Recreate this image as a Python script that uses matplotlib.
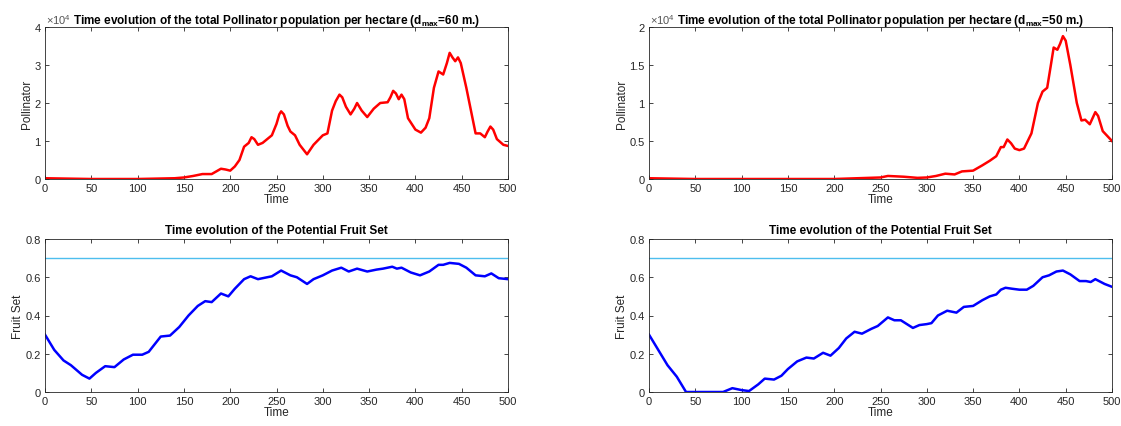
import matplotlib
matplotlib.use('Agg')
import matplotlib.pyplot as plt
from matplotlib.ticker import FuncFormatter

plt.rcParams['font.family'] = ['Liberation Sans', 'DejaVu Sans']
plt.rcParams['mathtext.fontset'] = 'custom'
plt.rcParams['mathtext.rm'] = 'Liberation Sans'
plt.rcParams['mathtext.bf'] = 'Liberation Sans:bold'

# pollinator population, d_max = 60 m
t_poll60 = [0, 50, 100, 140, 150, 160, 170, 180, 185, 190, 195, 200, 205, 210, 215, 220, 223, 226,
            230, 235, 240, 245, 250, 253, 255, 258, 262, 265, 270, 275, 283, 290, 300, 305,
            310, 314, 318, 321, 325, 330, 334, 337, 342, 348, 355, 362, 370, 373, 376, 379, 382,
            385, 388, 392, 400, 406, 411, 415, 420, 425, 430, 434, 437, 440, 443, 446, 449,
            455, 465, 470, 475, 478, 481, 484, 488, 495, 500]
poll60 = [200, 0, 0, 200, 400, 800, 1300, 1300, 2000, 2700, 2500, 2200, 3300, 5000, 8500, 9500, 11000, 10500,
          9000, 9500, 10500, 11500, 14500, 17000, 17800, 17000, 14000, 12500, 11500, 9000, 6500, 9000, 11500, 12000,
          18000, 20500, 22200, 21500, 19000, 17000, 18500, 20000, 18000, 16300, 18500, 20000, 20200, 21500, 23200, 22500, 21000,
          22200, 21000, 16000, 13000, 12200, 13500, 16000, 24000, 28300, 27500, 30500, 33200, 32000, 31000, 32000, 30500,
          24000, 12000, 12000, 11000, 12500, 13800, 13000, 10500, 9000, 8700]

# pollinator population, d_max = 50 m
t_poll50 = [0, 50, 100, 200, 250, 258, 275, 290, 300, 310, 320, 330, 338, 350, 360, 368,
            375, 380, 383, 387, 391, 395, 400, 405, 413, 420, 425, 430, 434, 437, 441, 444,
            447, 450, 455, 462, 467, 471, 476, 479, 482, 485, 490, 500]
poll50 = [100, 0, 0, 0, 200, 400, 300, 150, 200, 400, 700, 600, 1000, 1100, 1800, 2400,
          3000, 4200, 4200, 5200, 4700, 4000, 3800, 4000, 6000, 10000, 11500, 12000, 15000, 17300, 17000, 17800,
          18800, 18200, 15000, 10000, 7700, 7800, 7200, 8000, 8800, 8300, 6300, 5000]

# potential fruit set, d_max = 60 m
t_fruit60 = [0, 10, 20, 28, 40, 48, 55, 65, 75, 85, 95, 105, 112, 125, 135, 145, 155, 165,
             173, 180, 190, 198, 205, 215, 222, 230, 245, 255, 265, 272, 283, 290, 300, 310,
             320, 328, 337, 348, 358, 365, 375, 380, 385, 395, 405, 415, 425, 430, 437, 447,
             455, 465, 475, 482, 490, 500]
fruit60 = [0.30, 0.22, 0.165, 0.14, 0.09, 0.07, 0.10, 0.135, 0.13, 0.17, 0.195, 0.195, 0.21, 0.29, 0.295, 0.34, 0.40, 0.45,
           0.475, 0.47, 0.515, 0.50, 0.54, 0.59, 0.605, 0.59, 0.605, 0.635, 0.61, 0.60, 0.565, 0.59, 0.61, 0.635,
           0.65, 0.63, 0.645, 0.63, 0.64, 0.645, 0.655, 0.645, 0.65, 0.625, 0.61, 0.63, 0.665, 0.665, 0.675, 0.67,
           0.65, 0.61, 0.605, 0.62, 0.595, 0.59]

# potential fruit set, d_max = 50 m
t_fruit50 = [0, 10, 20, 30, 40, 80, 90, 100, 108, 118, 125, 135, 143, 150, 160, 170, 178, 188,
             196, 205, 213, 222, 230, 240, 247, 258, 265, 272, 285, 292, 300, 305, 312, 322,
             332, 340, 350, 360, 368, 375, 380, 385, 392, 400, 408, 415, 425, 432, 440, 447,
             455, 465, 472, 477, 482, 492, 500]
fruit50 = [0.30, 0.22, 0.14, 0.08, 0.0, 0.0, 0.02, 0.01, 0.005, 0.04, 0.07, 0.065, 0.085, 0.12, 0.16, 0.18, 0.175, 0.205,
           0.19, 0.23, 0.28, 0.315, 0.305, 0.33, 0.345, 0.39, 0.375, 0.375, 0.335, 0.35, 0.355, 0.36, 0.40, 0.425,
           0.415, 0.445, 0.45, 0.48, 0.50, 0.51, 0.535, 0.545, 0.54, 0.535, 0.535, 0.555, 0.60, 0.61, 0.63, 0.635,
           0.615, 0.58, 0.58, 0.575, 0.59, 0.565, 0.55]

threshold = 0.7
dmax = [60, 50]

fig = plt.figure(figsize=(11.21, 4.27), dpi=100)
lefts = [45 / 1121, 649 / 1121]
w = 463 / 1121
ax_tl = fig.add_axes([lefts[0], 1 - 180 / 427, w, 152 / 427])
ax_tr = fig.add_axes([lefts[1], 1 - 180 / 427, w, 152 / 427])
ax_bl = fig.add_axes([lefts[0], 1 - 393 / 427, w, 153 / 427])
ax_br = fig.add_axes([lefts[1], 1 - 393 / 427, w, 153 / 427])

grey = '#262626'


def style(ax):
    ax.set_xlim(0, 500)
    ax.set_xticks(range(0, 501, 50))
    ax.tick_params(direction='in', top=True, right=True, labelsize=8,
                   colors=grey, length=3, width=0.6, pad=3)
    for s in ax.spines.values():
        s.set_color(grey)
        s.set_linewidth(0.6)
    ax.set_xlabel('Time', fontsize=8.5, color=grey, labelpad=0)


for ax, t, y, ymax, step, d in [(ax_tl, t_poll60, poll60, 4e4, 1e4, dmax[0]),
                                (ax_tr, t_poll50, poll50, 2e4, 0.5e4, dmax[1])]:
    ax.plot(t, y, color='red', lw=1.8)
    style(ax)
    ax.set_ylim(0, ymax)
    ax.set_yticks([i * step for i in range(int(round(ymax / step)) + 1)])
    ax.yaxis.set_major_formatter(FuncFormatter(lambda v, p: '%g' % (v / 1e4)))
    ax.set_ylabel('Pollinator', fontsize=8.5, color=grey, labelpad=1)
    ax.text(0.002, 1.008, r'$\times10^4$', transform=ax.transAxes, fontsize=8,
            color='#555555', ha='left', va='bottom')
    ax.set_title(r'Time evolution of the total Pollinator population per hectare (d$_{\mathbf{max}}$=%d m.)' % d,
                 fontsize=8.5, fontweight='bold', pad=3)

for ax, t, y in [(ax_bl, t_fruit60, fruit60), (ax_br, t_fruit50, fruit50)]:
    ax.axhline(threshold, color='#4DBEEE', lw=1.0)
    ax.plot(t, y, color='blue', lw=1.8)
    style(ax)
    ax.set_ylim(0, 0.8)
    ax.set_yticks([0, 0.2, 0.4, 0.6, 0.8])
    ax.yaxis.set_major_formatter(FuncFormatter(lambda v, p: '%g' % v))
    ax.set_ylabel('Fruit Set', fontsize=8.5, color=grey, labelpad=1)
    ax.set_title('Time evolution of the Potential Fruit Set', fontsize=8.5,
                 fontweight='bold', pad=4)

fig.savefig('out.png', dpi=100)
